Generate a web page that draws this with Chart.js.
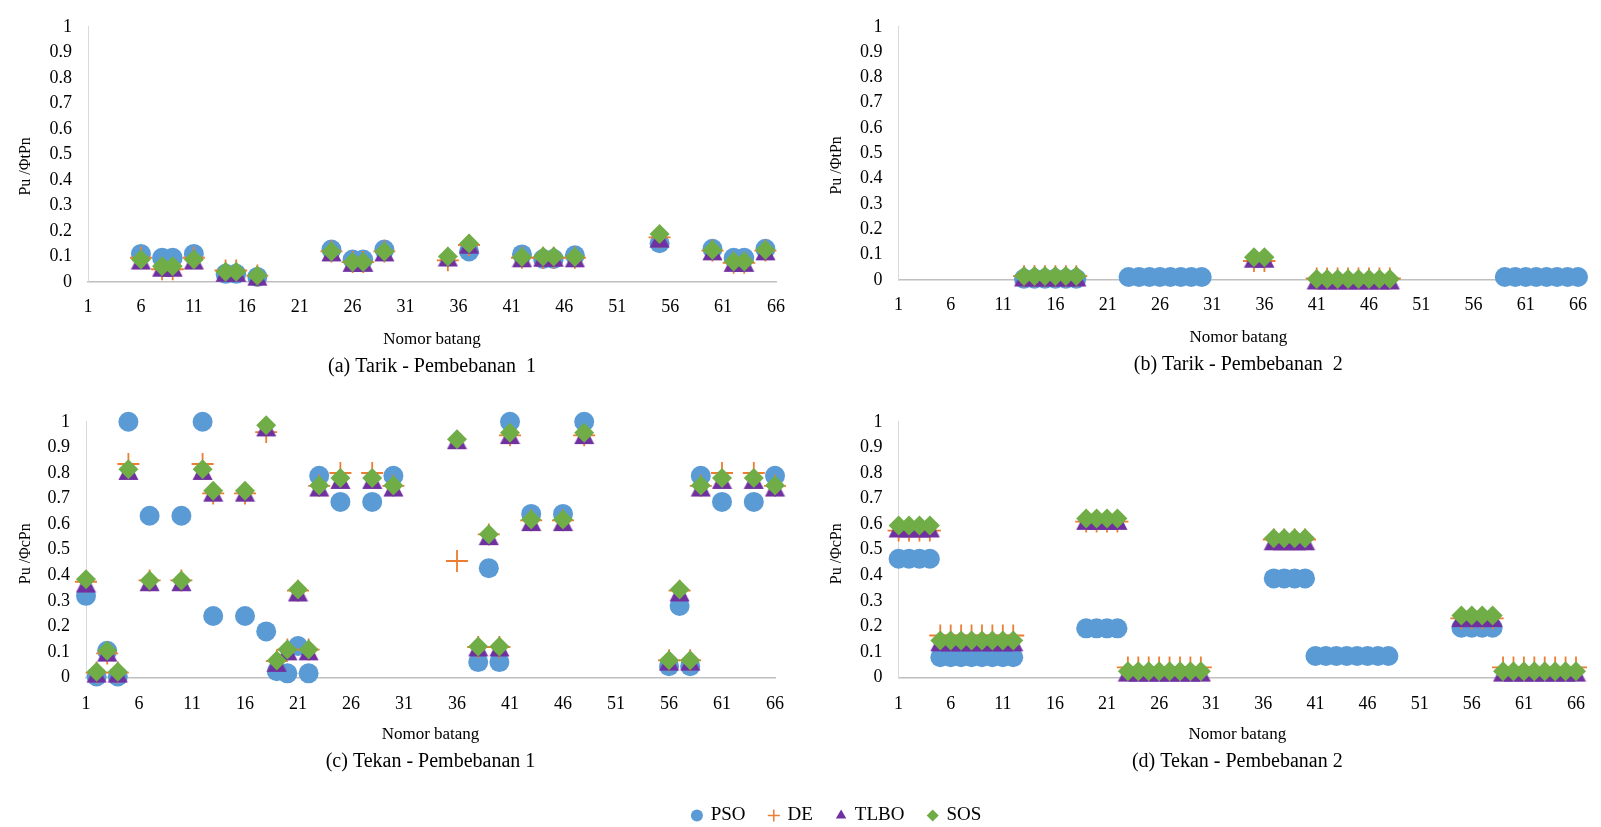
<!DOCTYPE html>
<html>
<head>
<meta charset="utf-8">
<script src="https://cdn.jsdelivr.net/npm/chart.js@4.4.1/dist/chart.umd.min.js"></script>
<style>
  html, body { margin: 0; padding: 0; background: #fff; }
  body { width: 1601px; height: 827px; position: relative; overflow: hidden; }
  canvas { position: absolute; }
</style>
</head>
<body>
<canvas id="chartA" width="800" height="380" style="left:0;top:0"></canvas>
<canvas id="chartB" width="801" height="380" style="left:800px;top:0"></canvas>
<canvas id="chartC" width="800" height="380" style="left:0;top:395px"></canvas>
<canvas id="chartD" width="801" height="380" style="left:800px;top:395px"></canvas>
<canvas id="legend" width="500" height="160" style="left:587px;top:782px"></canvas>
<script>
const seriesNames = ['PSO', 'DE', 'TLBO', 'SOS']
const xTicks = [1, 6, 11, 16, 21, 26, 31, 36, 41, 46, 51, 56, 61, 66]

// (a) Tarik - Pembebanan 1
const aX = [6, 8, 9, 11, 14, 15, 17, 24, 26, 27, 29, 35, 37, 42, 44, 45, 47, 55, 60, 62, 63, 65]
const aPSO = [0.11, 0.095, 0.095, 0.11, 0.032, 0.032, 0.02, 0.127, 0.088, 0.088, 0.127, null, 0.12, 0.108, 0.09, 0.09, 0.105, 0.152, 0.13, 0.095, 0.095, 0.13]
const aDE = [0.095, 0.05, 0.05, 0.095, 0.045, 0.045, 0.025, 0.12, 0.078, 0.078, 0.12, 0.085, 0.145, 0.095, 0.095, 0.095, 0.095, 0.175, 0.123, 0.075, 0.075, 0.123]
const aTLBO = [0.086, 0.058, 0.058, 0.086, 0.038, 0.038, 0.023, 0.118, 0.077, 0.077, 0.118, 0.098, 0.148, 0.095, 0.097, 0.097, 0.095, 0.172, 0.122, 0.077, 0.077, 0.122]
const aSOS = [0.088, 0.062, 0.062, 0.088, 0.04, 0.04, 0.025, 0.12, 0.078, 0.078, 0.12, 0.1, 0.151, 0.098, 0.1, 0.1, 0.098, 0.188, 0.125, 0.08, 0.08, 0.125]

// (b) Tarik - Pembebanan 2
const bX = [13, 14, 15, 16, 17, 18, 23, 24, 25, 26, 27, 28, 29, 30, 35, 36, 41, 42, 43, 44, 45, 46, 47, 48, 59, 60, 61, 62, 63, 64, 65, 66]
const bPSO = [0.005, 0.005, 0.005, 0.005, 0.005, 0.005, 0.012, 0.012, 0.012, 0.012, 0.012, 0.012, 0.012, 0.012, null, null, null, null, null, null, null, null, null, null, 0.012, 0.012, 0.012, 0.012, 0.012, 0.012, 0.012, 0.012]
const bDE = [0.015, 0.015, 0.015, 0.015, 0.015, 0.015, null, null, null, null, null, null, null, null, 0.075, 0.075, 0.006, 0.006, 0.006, 0.006, 0.006, 0.006, 0.006, 0.006, null, null, null, null, null, null, null, null]
const bTLBO = [0.012, 0.012, 0.012, 0.012, 0.012, 0.012, null, null, null, null, null, null, null, null, 0.086, 0.086, 0, 0, 0, 0, 0, 0, 0, 0, null, null, null, null, null, null, null, null]
const bSOS = [0.016, 0.016, 0.016, 0.016, 0.016, 0.016, null, null, null, null, null, null, null, null, 0.09, 0.09, 0.004, 0.004, 0.004, 0.004, 0.004, 0.004, 0.004, 0.004, null, null, null, null, null, null, null, null]

// (c) Tekan - Pembebanan 1
const cX = [1, 2, 3, 4, 5, 7, 10, 12, 13, 16, 18, 19, 20, 21, 22, 23, 25, 28, 30, 36, 38, 39, 40, 41, 43, 46, 48, 56, 57, 58, 59, 61, 64, 66]
const cPSO = [0.32, 0.005, 0.105, 0.005, 1.0, 0.633, 0.633, 1.0, 0.241, 0.241, 0.181, 0.025, 0.017, 0.124, 0.017, 0.789, 0.687, 0.687, 0.789, null, 0.061, 0.428, 0.061, 1.0, 0.64, 0.64, 1.0, 0.045, 0.28, 0.045, 0.789, 0.687, 0.687, 0.789]
const cDE = [0.375, 0.02, 0.095, 0.02, 0.835, 0.38, 0.38, 0.835, 0.72, 0.72, 0.96, 0.065, 0.11, 0.34, 0.11, 0.75, 0.8, 0.8, 0.75, 0.456, 0.12, 0.56, 0.12, 0.947, 0.615, 0.615, 0.947, 0.068, 0.34, 0.068, 0.75, 0.8, 0.8, 0.75]
const cTLBO = [0.37, 0.018, 0.1, 0.018, 0.81, 0.375, 0.375, 0.81, 0.725, 0.725, 0.98, 0.06, 0.105, 0.335, 0.105, 0.745, 0.775, 0.775, 0.745, 0.93, 0.12, 0.555, 0.12, 0.95, 0.61, 0.61, 0.95, 0.065, 0.335, 0.065, 0.745, 0.775, 0.775, 0.745]
const cSOS = [0.385, 0.023, 0.105, 0.023, 0.815, 0.38, 0.38, 0.815, 0.731, 0.731, 0.987, 0.067, 0.11, 0.345, 0.11, 0.751, 0.78, 0.78, 0.751, 0.932, 0.122, 0.561, 0.122, 0.957, 0.618, 0.618, 0.957, 0.068, 0.345, 0.068, 0.751, 0.78, 0.78, 0.751]

// (d) Tekan - Pembebanan 2
const dX = [1, 2, 3, 4, 5, 6, 7, 8, 9, 10, 11, 12, 19, 20, 21, 22, 23, 24, 25, 26, 27, 28, 29, 30, 37, 38, 39, 40, 41, 42, 43, 44, 45, 46, 47, 48, 55, 56, 57, 58, 59, 60, 61, 62, 63, 64, 65, 66]
const dPSO = [0.465, 0.465, 0.465, 0.465, 0.08, 0.08, 0.08, 0.08, 0.08, 0.08, 0.08, 0.08, 0.193, 0.193, 0.193, 0.193, null, null, null, null, null, null, null, null, 0.388, 0.388, 0.388, 0.388, 0.085, 0.085, 0.085, 0.085, 0.085, 0.085, 0.085, 0.085, 0.195, 0.195, 0.195, 0.195, null, null, null, null, null, null, null, null]
const dDE = [0.575, 0.575, 0.575, 0.575, 0.165, 0.165, 0.165, 0.165, 0.165, 0.165, 0.165, 0.165, 0.61, 0.61, 0.61, 0.61, 0.04, 0.04, 0.04, 0.04, 0.04, 0.04, 0.04, 0.04, 0.54, 0.54, 0.54, 0.54, null, null, null, null, null, null, null, null, 0.232, 0.232, 0.232, 0.232, 0.04, 0.04, 0.04, 0.04, 0.04, 0.04, 0.04, 0.04]
const dTLBO = [0.585, 0.585, 0.585, 0.585, 0.14, 0.14, 0.14, 0.14, 0.14, 0.14, 0.14, 0.14, 0.615, 0.615, 0.615, 0.615, 0.022, 0.022, 0.022, 0.022, 0.022, 0.022, 0.022, 0.022, 0.535, 0.535, 0.535, 0.535, null, null, null, null, null, null, null, null, 0.235, 0.235, 0.235, 0.235, 0.022, 0.022, 0.022, 0.022, 0.022, 0.022, 0.022, 0.022]
const dSOS = [0.595, 0.595, 0.595, 0.595, 0.145, 0.145, 0.145, 0.145, 0.145, 0.145, 0.145, 0.145, 0.622, 0.622, 0.622, 0.622, 0.025, 0.025, 0.025, 0.025, 0.025, 0.025, 0.025, 0.025, 0.545, 0.545, 0.545, 0.545, null, null, null, null, null, null, null, null, 0.243, 0.243, 0.243, 0.243, 0.025, 0.025, 0.025, 0.025, 0.025, 0.025, 0.025, 0.025]

const colors = { PSO: '#5b9bd5', DE: '#ed7d31', TLBO: '#7030a0', SOS: '#70ad47' }

Chart.defaults.font.family = "'Liberation Serif', 'Times New Roman', serif"
Chart.defaults.color = '#000'

// excel style triangle: apex at top of the marker box, base at the bottom
function triangleMarker() {
  const c = document.createElement('canvas')
  c.width = 21
  c.height = 21
  const g = c.getContext('2d')
  g.fillStyle = colors.TLBO
  g.beginPath()
  g.moveTo(10.5, 0.5)
  g.lineTo(20.5, 20)
  g.lineTo(0.5, 20)
  g.closePath()
  g.fill()
  return c
}
const tri = triangleMarker()

function points(xs, ys) {
  const out = []
  xs.forEach((x, i) => {
    if (ys[i] !== null) out.push({ x: x, y: ys[i] })
  })
  return out
}

// trailing nbsp nudges the rotated y title down a little, like the original
const nb = (n) => '\u00a0'.repeat(n)

function makePanel(id, caption, yTitle, xs, pso, de, tlbo, sos, box) {
  const ctx = document.getElementById(id).getContext('2d')
  return new Chart(ctx, {
    type: 'scatter',
    data: {
      datasets: [
        { label: 'PSO', data: points(xs, pso), pointStyle: 'circle', pointRadius: 10,
          pointBackgroundColor: colors.PSO, pointBorderWidth: 0, order: 4, clip: false },
        { label: 'DE', data: points(xs, de), pointStyle: 'cross', pointRadius: 11,
          pointBorderColor: colors.DE, pointBorderWidth: 1.8, order: 3, clip: false },
        { label: 'TLBO', data: points(xs, tlbo), pointStyle: tri, pointRadius: 10,
          pointBorderWidth: 0, order: 2, clip: false },
        { label: 'SOS', data: points(xs, sos), pointStyle: 'rectRot', pointRadius: 10,
          pointBackgroundColor: colors.SOS, pointBorderWidth: 0, order: 1, clip: false },
      ],
    },
    options: {
      responsive: false,
      animation: false,
      events: [],
      layout: {
        padding: { left: box.padLeft, right: box.padRight, top: box.padTop, bottom: box.padBottom },
      },
      scales: {
        x: {
          type: 'linear',
          min: 1,
          max: 66,
          afterBuildTicks: (s) => {
            s.ticks = xTicks.map((v) => ({ value: v }))
          },
          afterFit: (s) => {
            s.height = 71.5
          },
          grid: { display: false, drawTicks: false },
          border: { display: true, color: '#bfbfbf', width: 1.5 },
          ticks: { padding: box.tickPad, font: { size: 18 }, maxRotation: 0, autoSkip: false },
          title: { display: true, text: 'Nomor batang', font: { size: 17 }, padding: { top: 4, bottom: 4 } },
        },
        y: {
          min: 0,
          max: 1,
          afterFit: (s) => {
            s.width = box.yWidth
          },
          grid: { display: false, drawTicks: false },
          border: { display: true, color: '#d9d9d9', width: 1 },
          ticks: { stepSize: 0.1, autoSkip: false, padding: 16, font: { size: 18 }, callback: (v) => +v.toFixed(1) },
          title: { display: true, text: yTitle + nb(box.titleShift), font: { size: 16 }, padding: { top: 4, bottom: 4 } },
        },
      },
      plugins: {
        legend: { display: false },
        tooltip: { enabled: false },
        title: {
          display: true,
          position: 'bottom',
          fullSize: false,
          text: caption,
          color: '#000',
          font: { size: 20, weight: 'normal' },
          padding: { top: 1, bottom: 0 },
        },
      },
    },
  })
}

makePanel('chartA', '(a) Tarik - Pembebanan  1', 'Pu /ΦtPn', aX, aPSO, aDE, aTLBO, aSOS,
  { padLeft: 12, yWidth: 76, padRight: 24, padTop: 17, padBottom: 1.5, tickPad: 14, titleShift: 6 })
makePanel('chartB', '(b) Tarik - Pembebanan  2', 'Pu /ΦtPn', bX, bPSO, bDE, bTLBO, bSOS,
  { padLeft: 23, yWidth: 75.6, padRight: 23, padTop: 15.7, padBottom: 3.5, tickPad: 14, titleShift: 6 })
makePanel('chartC', '(c) Tekan - Pembebanan 1', 'Pu /ΦcPn', cX, cPSO, cDE, cTLBO, cSOS,
  { padLeft: 12, yWidth: 74, padRight: 25, padTop: 19.3, padBottom: 0.8, tickPad: 16, titleShift: 2 })
makePanel('chartD', '(d) Tekan - Pembebanan 2', 'Pu /ΦcPn', dX, dPSO, dDE, dTLBO, dSOS,
  { padLeft: 23, yWidth: 75.6, padRight: 18, padTop: 18.3, padBottom: 0.8, tickPad: 16, titleShift: 2 })

// shared legend under the four panels
const legendStyles = { PSO: 'circle', DE: 'cross', TLBO: 'triangle', SOS: 'rectRot' }
new Chart(document.getElementById('legend').getContext('2d'), {
  type: 'scatter',
  data: { datasets: seriesNames.map((n) => ({ label: n, data: [] })) },
  options: {
    responsive: false,
    animation: false,
    events: [],
    layout: { padding: 0 },
    scales: { x: { display: false }, y: { display: false } },
    plugins: {
      tooltip: { enabled: false },
      legend: {
        display: true,
        position: 'top',
        labels: {
          usePointStyle: true,
          boxWidth: 8.5,
          boxHeight: 8.5,
          padding: 24,
          color: '#000',
          font: { size: 19 },
          generateLabels: () =>
            seriesNames.map((n, i) => ({
              text: n,
              datasetIndex: i,
              pointStyle: legendStyles[n],
              fillStyle: colors[n],
              strokeStyle: colors[n],
              lineWidth: n === 'DE' ? 1.5 : 0,
              fontColor: '#000',
              hidden: false,
            })),
        },
      },
    },
  },
})
</script>
</body>
</html>
